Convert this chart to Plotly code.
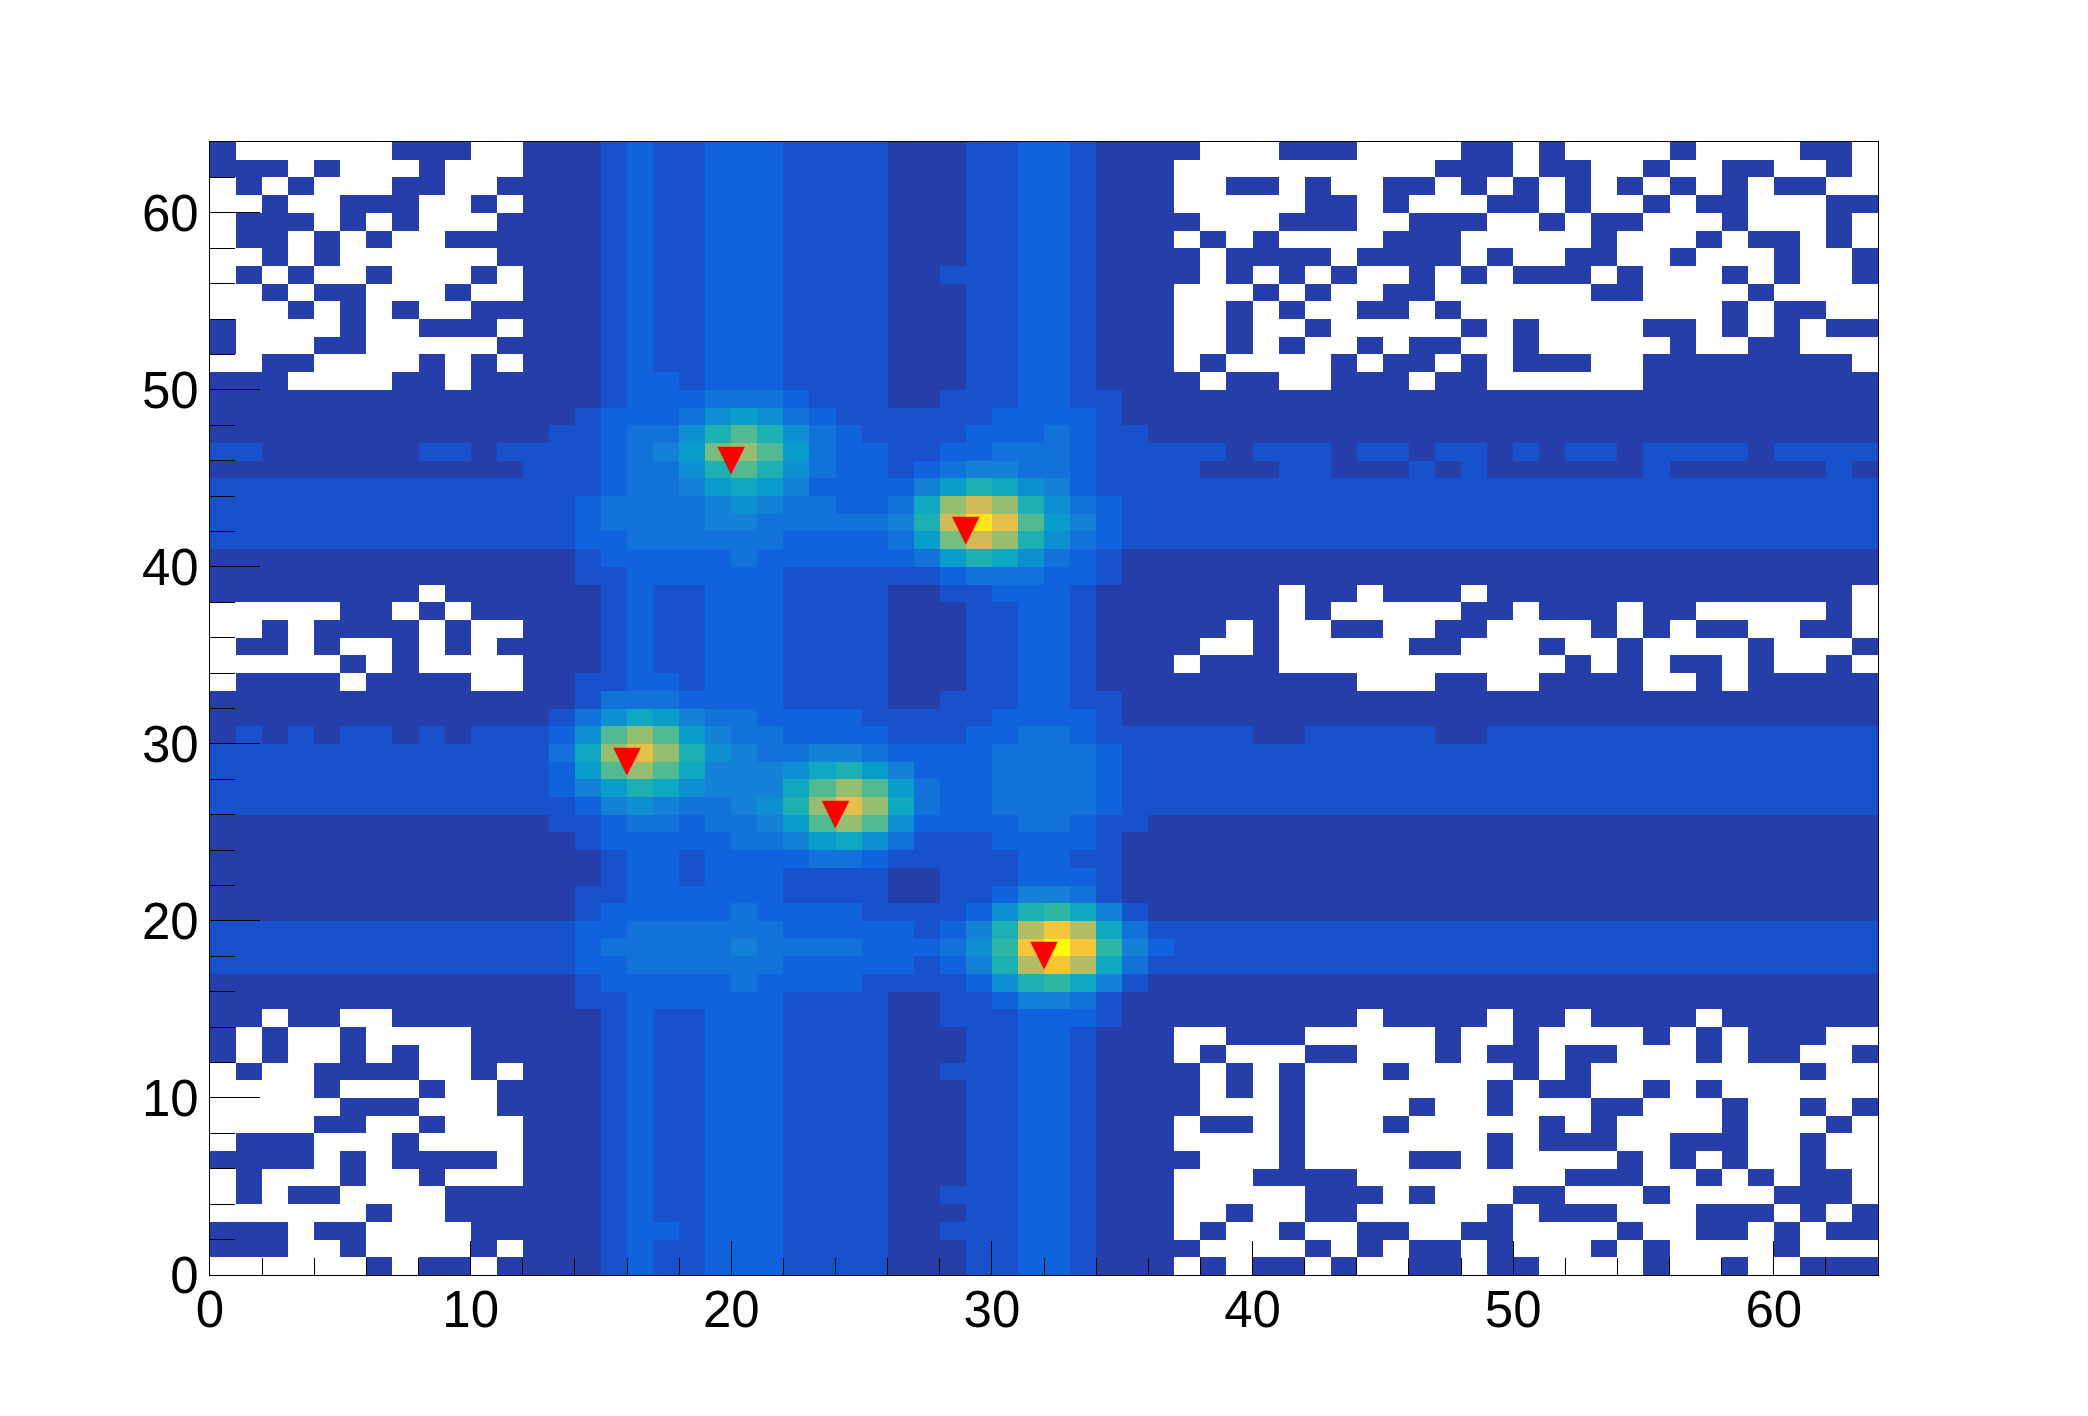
import plotly.graph_objects as go

# Source data: one string per row, top row (y bin 63) first, split as cols 0-11 / 12-36 / 37-63
# . = empty bin, 1-9 = counts, a-k = counts 10-20
rows = [
    "1......111.. 1112322333222211122332111 1...111....11.1....1....11.",
    "111.1...1... 1112322333222211122332111 ..........111.11..1..11..1.",
    ".1.1...11..1 1112322333222211122332111 ..11.1..11.1.1.1.1.1.1.11..",
    "..1..111..1. 1112322333222211122332111 .....11.1...11.1..1.11...11",
    ".111.1.1...1 1112322333222211122332111 1...111..111..1.11...1...1.",
    ".11.1.1..111 1112322333222211122332111 .1.1....111.....1...1.11.1.",
    "..1.1......1 1112322333222211122332111 1.1111.1111.1..11..1...1..1",
    ".1.1..1...1. 1112322333222211222332111 1.1.1.1..1.1.111.1...1.1..1",
    "..1.11...1.. 1112322333222211122332111 ...1.1..11......11....1....",
    "...1.1.1..11 1112322333222211122332111 ..1.1..11.1..........1.11..",
    "1....1..111. 1112322333222211122332111 ..1..1.....1.1....11.1.1.11",
    "1...11.....1 1112322333222211122332111 ..1.1..1.11..1.....1..11...",
    "..11....1.1. 1112322333222211122332111 .1....1.11.1.111..11111111.",
    "111....11.11 1112332333222211122332111 1.11..111.11......111111111",
    "111111111111 1112333444322211222332211 111111111111111111111111111",
    "111111111111 1123334676432222223333211 111111111111111111111111111",
    "111111111111 12234469b9643222233343221 111111111111111111111111111",
    "221111112212 2223457cdb743322334443222 221222122122121221222212222",
    "111111111111 22234469b9643323455443222 211122111212111111211111121",
    "222222222222 2223445787533335798653222 222222222222222222222222222",
    "222222222222 2234444565443348dfd964322 222222222222222222222222222",
    "222222222222 2234444554444459fjgb75322 222222222222222222222222222",
    "222222222222 2233444444333347cfd964322 222222222222222222222222222",
    "111111111111 1123333343333334798643211 111111111111111111111111111",
    "111111111111 1122333333222222344433211 111111111111111111111111111",
    "11111111.111 1112322333222211223332111 1111.11.111.11111111111111.",
    ".....11.1.11 1112322333222211122332111 1111.1.....11.111.11.....1.",
    "..1.1111.1.. 1112322333222211122332111 11.1..11..11....1.1.11..11.",
    ".11.1..1.1.1 1112322333222211122332111 1..1.....11...1..1....1...1",
    ".....1.1.... 1112322333222211122332111 .111...........1.1.11.1..1.",
    ".1111.1111.. 1122332333222211122332111 1111111...11..1111..1.11111",
    "111111111111 1124443333222211222332211 111111111111111111111111111",
    "111111111111 1246875443333222223333211 111111111111111111111111111",
    "121212212122 236bdb7544333322233443222 222112222211222222222222222",
    "222222222222 248dgd9654455433334444322 222222222222222222222222222",
    "222222222222 237bdb8555689753334444322 222222222222222222222222222",
    "222222222222 23579865558bdb74334444322 222222222222222222222222222",
    "222222222222 22356544569dgd84334444322 222222222222222222222222222",
    "111111111111 12234434457bdb63333443221 111111111111111111111111111",
    "111111111111 1123333344578642223333211 111111111111111111111111111",
    "111111111111 1112332333344322222332211 111111111111111111111111111",
    "111111111111 1112332333222211222333211 111111111111111111111111111",
    "111111111111 1122333333222211223554211 111111111111111111111111111",
    "111111111111 11233333433332222369a8521 111111111111111111111111111",
    "222222222222 2233444444333332359ehe842 222222222222222222222222222",
    "222222222222 223444445444433346ahkha53 222222222222222222222222222",
    "222222222222 2233444444333332359ehe842 222222222222222222222222222",
    "111111111111 11233333433332222369a8521 111111111111111111111111111",
    "111111111111 1122333333222211223554211 111111111111111111111111111",
    "11.11..11111 1112322333222211222333211 1111111.1111.11.1111.111111",
    "1.1..1....11 1112322333222211122332111 ..111.....1..1....1.1.111..",
    "1.1..1.1..11 1112322333222211122332111 .1...11...1.11.11...1.11..1",
    ".1..1111..1. 1112322333222211222332111 1.1.1...1....1.1........1..",
    "....1...1..1 1112322333222211122332111 1.1.1.......1.11..1.1......",
    ".....111...1 1112322333222211122332111 1...1....1..1...11...1..1.1",
    "....11..1... 1112322333222211122332111 .11.1...1.....1.1....1...1.",
    ".111...1.... 1112322333222211122332111 ....1.......1.111..111..1..",
    "1111.1.1111. 1112322333222211122332111 1...1....11.1....1.1.1..1..",
    ".1...1..1... 1112322333222211122332111 ...1111........111..1.1.11.",
    ".1.11....111 1112322333222211222332111 .....111.1...11...1....111.",
    "......1..111 1112322333222211122332111 ..1..11.....1.111...111.1.1",
    "111.11....11 1112332333222211222332111 .1..1..11..11....1..11.1.11",
    "111..1....1. 1112322333222211122332111 1....1.1.11.1...1.1....1...",
    "......1.11.1 1112322333222211122332111 .1.11.1..11.11....1..1..111",
]
digits = ".123456789abcdefghijk"

# Peaks found in the histogram
peak_x = [20, 29, 16, 24, 32]
peak_y = [46, 42, 29, 26, 18]

# ROOT kBird palette
bird = [
    [0.0, "rgb(53,42,135)"],
    [0.125, "rgb(15,92,221)"],
    [0.25, "rgb(20,129,214)"],
    [0.375, "rgb(6,164,202)"],
    [0.5, "rgb(46,183,164)"],
    [0.625, "rgb(135,191,119)"],
    [0.75, "rgb(209,187,89)"],
    [0.875, "rgb(254,200,50)"],
    [1.0, "rgb(249,251,14)"],
]

# Empty bins stay None so the white page shows through
z = []
for row in reversed(rows):
    cells = [digits.index(c) for c in row.replace(" ", "")]
    z.append([c if c > 0 else None for c in cells])

fig = go.Figure()
fig.add_trace(go.Heatmap(
    z=z,
    x0=0.5, dx=1,
    y0=0.5, dy=1,
    colorscale=bird,
    zmin=0, zmax=20,
    showscale=False,
    hoverongaps=False,
))
fig.add_trace(go.Scatter(
    x=peak_x,
    y=peak_y,
    mode="text",
    text=["▼"] * len(peak_x),
    textposition="middle center",
    textfont=dict(family="DejaVu Sans", size=36, color="#ff0000"),
    showlegend=False,
))

axis_style = dict(
    range=[0, 64],
    tick0=0,
    dtick=10,
    ticks="inside",
    tickwidth=1.3,
    tickcolor="black",
    showgrid=False,
    zeroline=False,
    showline=True,
    linecolor="black",
    linewidth=1.3,
    mirror=True,
    tickfont=dict(family="Liberation Sans", size=51, color="black"),
)

fig.update_xaxes(
    **axis_style,
    ticklen=34,
    ticklabelstandoff=-10,
    minor=dict(ticks="inside", ticklen=17, tickwidth=1.3, tickcolor="black", tick0=0, dtick=2),
)
fig.update_yaxes(
    **axis_style,
    ticklen=50,
    minor=dict(ticks="inside", ticklen=25, tickwidth=1.3, tickcolor="black", tick0=0, dtick=2),
)

# The page body adds an 8 px margin, so the left and top margins give it back
fig.update_layout(
    width=2088,
    height=1416,
    margin=dict(l=202, r=218, t=134, b=149, pad=0),
    paper_bgcolor="white",
    plot_bgcolor="white",
    showlegend=False,
)

fig.write_html("out.html")
